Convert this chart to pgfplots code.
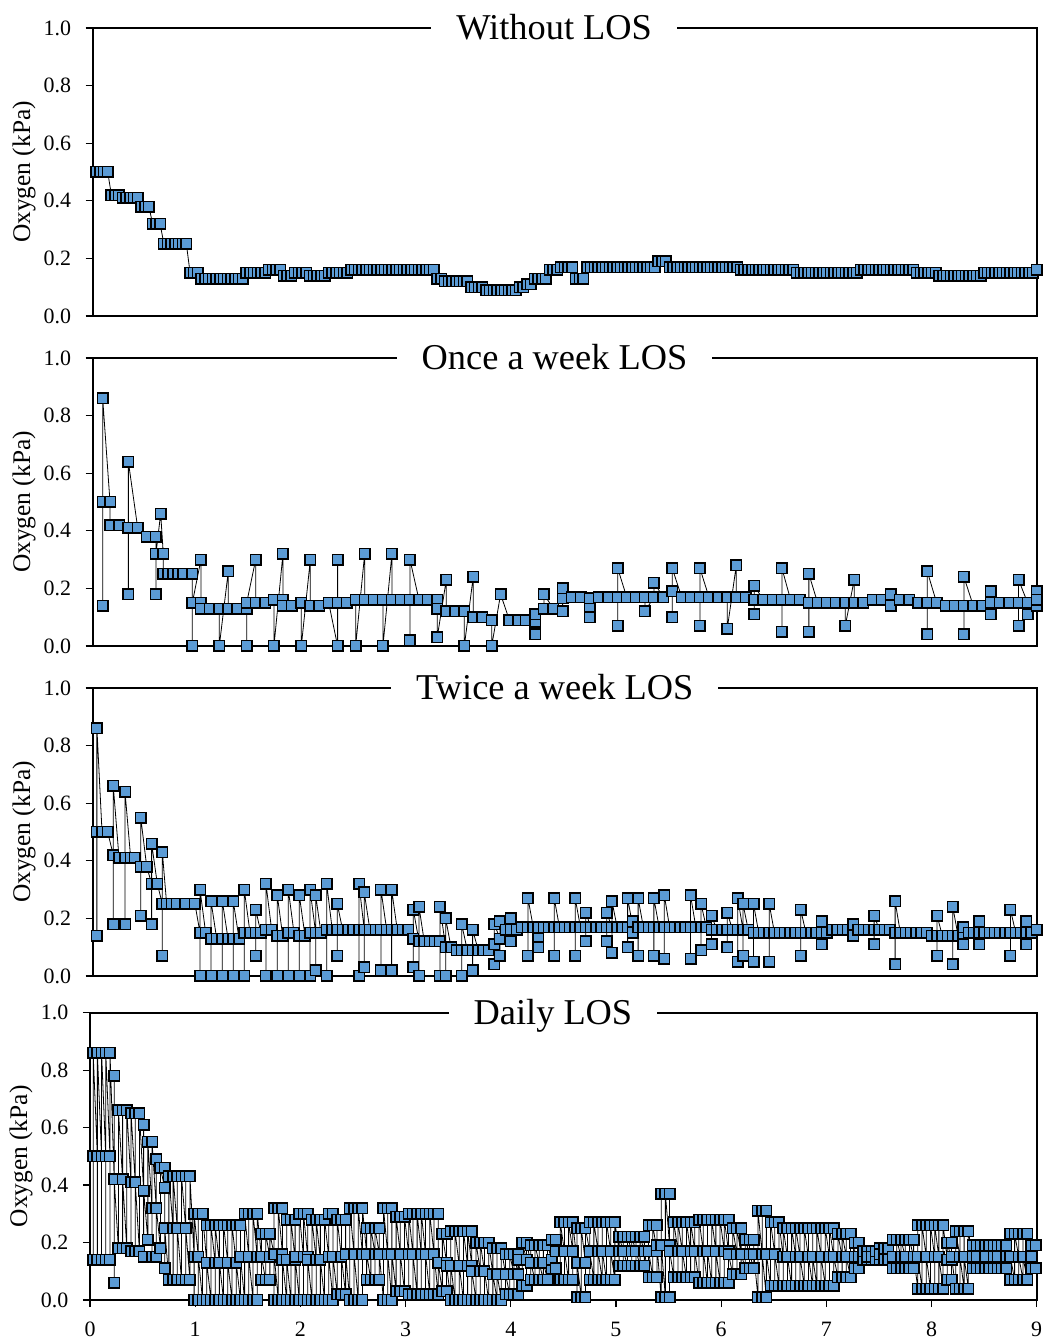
\documentclass[border=0pt]{standalone}
\usepackage{fontspec}
\setmainfont{Liberation Serif}
\usepackage{pgfplots}
\usepackage{pgfplotstable}
\pgfplotsset{compat=1.18}
\definecolor{mk}{RGB}{91,155,213}

% Without LOS: one reading every quarter week
\pgfplotstableread[row sep=\\]{
y\\
0.50\\0.50\\0.50\\0.50\\
0.42\\0.42\\0.42\\
0.41\\0.41\\0.41\\0.41\\0.41\\
0.38\\0.38\\0.38\\
0.32\\0.32\\0.32\\
0.25\\0.25\\0.25\\0.25\\0.25\\0.25\\0.25\\
0.15\\0.15\\0.15\\
0.13\\0.13\\0.13\\0.13\\0.13\\0.13\\0.13\\0.13\\0.13\\0.13\\0.13\\0.13\\
0.15\\0.15\\0.15\\0.15\\0.15\\0.15\\
0.16\\0.16\\0.16\\0.16\\
0.14\\0.14\\0.14\\
0.15\\0.15\\0.15\\0.15\\
0.14\\0.14\\0.14\\0.14\\0.14\\
0.15\\0.15\\0.15\\0.15\\0.15\\0.15\\
0.16\\0.16\\0.16\\0.16\\0.16\\0.16\\0.16\\0.16\\0.16\\0.16\\0.16\\0.16\\
0.16\\0.16\\0.16\\0.16\\0.16\\0.16\\0.16\\0.16\\0.16\\0.16\\0.16\\
0.13\\0.13\\
0.12\\0.12\\0.12\\0.12\\0.12\\0.12\\0.12\\
0.10\\0.10\\0.10\\0.10\\
0.09\\0.09\\0.09\\0.09\\0.09\\0.09\\0.09\\0.09\\0.09\\
0.10\\0.10\\
0.11\\0.11\\
0.13\\0.13\\0.13\\0.13\\
0.16\\0.16\\0.16\\
0.17\\0.17\\0.17\\0.17\\
0.13\\0.13\\0.13\\
0.17\\0.17\\0.17\\0.17\\0.17\\0.17\\0.17\\0.17\\0.17\\0.17\\
0.17\\0.17\\0.17\\0.17\\0.17\\0.17\\0.17\\0.17\\0.17\\
0.19\\0.19\\0.19\\
0.17\\0.17\\0.17\\0.17\\0.17\\0.17\\0.17\\0.17\\0.17\\0.17\\
0.17\\0.17\\0.17\\0.17\\0.17\\0.17\\0.17\\0.17\\0.17\\
0.16\\0.16\\0.16\\0.16\\0.16\\0.16\\0.16\\0.16\\0.16\\0.16\\0.16\\0.16\\0.16\\0.16\\0.16\\
0.15\\0.15\\0.15\\0.15\\0.15\\0.15\\0.15\\0.15\\0.15\\0.15\\0.15\\0.15\\0.15\\0.15\\0.15\\0.15\\0.15\\
0.16\\0.16\\0.16\\0.16\\0.16\\0.16\\0.16\\0.16\\0.16\\0.16\\0.16\\0.16\\0.16\\0.16\\0.16\\
0.15\\0.15\\0.15\\0.15\\0.15\\0.15\\
0.14\\0.14\\0.14\\0.14\\0.14\\0.14\\0.14\\0.14\\0.14\\0.14\\0.14\\0.14\\
0.15\\0.15\\0.15\\0.15\\0.15\\0.15\\0.15\\0.15\\0.15\\0.15\\0.15\\0.15\\0.15\\0.15\\
0.16\\
}\noLOS

% Daily LOS: each day gives set point, low during LOS, high after LOS
\pgfplotstableread[row sep=\\]{
y\\
0.50\\0.14\\0.86\\
0.50\\0.14\\0.86\\
0.50\\0.14\\0.86\\
0.50\\0.14\\0.86\\
0.50\\0.14\\0.86\\
0.42\\0.06\\0.78\\
0.42\\0.18\\0.66\\
0.42\\0.18\\0.66\\
0.42\\0.18\\0.66\\
0.41\\0.17\\0.65\\
0.41\\0.17\\0.65\\
0.41\\0.17\\0.65\\
0.38\\0.15\\0.61\\
0.38\\0.21\\0.55\\
0.32\\0.15\\0.55\\
0.32\\0.15\\0.49\\
0.32\\0.18\\0.46\\
0.39\\0.11\\0.46\\
0.25\\0.07\\0.43\\
0.25\\0.07\\0.43\\
0.25\\0.07\\0.43\\
0.25\\0.07\\0.43\\
0.25\\0.07\\0.43\\
0.25\\0.07\\0.43\\
0.15\\0.00\\0.30\\
0.15\\0.00\\0.30\\
0.15\\0.00\\0.30\\
0.13\\0.00\\0.26\\
0.13\\0.00\\0.26\\
0.13\\0.00\\0.26\\
0.13\\0.00\\0.26\\
0.13\\0.00\\0.26\\
0.13\\0.00\\0.26\\
0.13\\0.00\\0.26\\
0.13\\0.00\\0.26\\
0.13\\0.00\\0.26\\
0.15\\0.00\\0.30\\
0.15\\0.00\\0.30\\
0.15\\0.00\\0.30\\
0.15\\0.00\\0.30\\
0.15\\0.07\\0.23\\
0.15\\0.07\\0.23\\
0.15\\0.07\\0.23\\
0.16\\0.00\\0.32\\
0.16\\0.00\\0.32\\
0.16\\0.00\\0.32\\
0.14\\0.00\\0.28\\
0.14\\0.00\\0.28\\
0.14\\0.00\\0.28\\
0.15\\0.00\\0.30\\
0.15\\0.00\\0.30\\
0.15\\0.00\\0.30\\
0.14\\0.00\\0.28\\
0.14\\0.00\\0.28\\
0.14\\0.00\\0.28\\
0.14\\0.00\\0.28\\
0.15\\0.00\\0.30\\
0.15\\0.00\\0.30\\
0.15\\0.02\\0.28\\
0.15\\0.02\\0.28\\
0.15\\0.02\\0.28\\
0.16\\0.00\\0.32\\
0.16\\0.00\\0.32\\
0.16\\0.00\\0.32\\
0.16\\0.00\\0.32\\
0.16\\0.07\\0.25\\
0.16\\0.07\\0.25\\
0.16\\0.07\\0.25\\
0.16\\0.07\\0.25\\
0.16\\0.00\\0.32\\
0.16\\0.00\\0.32\\
0.16\\0.00\\0.32\\
0.16\\0.03\\0.29\\
0.16\\0.03\\0.29\\
0.16\\0.03\\0.29\\
0.16\\0.02\\0.30\\
0.16\\0.02\\0.30\\
0.16\\0.02\\0.30\\
0.16\\0.02\\0.30\\
0.16\\0.02\\0.30\\
0.16\\0.02\\0.30\\
0.16\\0.02\\0.30\\
0.16\\0.02\\0.30\\
0.13\\0.03\\0.23\\
0.13\\0.03\\0.23\\
0.12\\0.00\\0.24\\
0.12\\0.00\\0.24\\
0.12\\0.00\\0.24\\
0.12\\0.00\\0.24\\
0.12\\0.00\\0.24\\
0.12\\0.00\\0.24\\
0.10\\0.00\\0.20\\
0.10\\0.00\\0.20\\
0.10\\0.00\\0.20\\
0.10\\0.00\\0.20\\
0.09\\0.00\\0.18\\
0.09\\0.00\\0.18\\
0.09\\0.00\\0.18\\
0.09\\0.02\\0.16\\
0.09\\0.02\\0.16\\
0.09\\0.02\\0.16\\
0.09\\0.02\\0.16\\
0.14\\0.05\\0.20\\
0.14\\0.05\\0.20\\
0.13\\0.07\\0.19\\
0.13\\0.07\\0.19\\
0.13\\0.07\\0.19\\
0.13\\0.07\\0.19\\
0.13\\0.07\\0.19\\
0.14\\0.11\\0.21\\
0.14\\0.11\\0.21\\
0.17\\0.07\\0.27\\
0.17\\0.07\\0.27\\
0.17\\0.07\\0.27\\
0.17\\0.07\\0.27\\
0.13\\0.01\\0.25\\
0.13\\0.01\\0.25\\
0.13\\0.01\\0.25\\
0.17\\0.07\\0.27\\
0.17\\0.07\\0.27\\
0.17\\0.07\\0.27\\
0.17\\0.07\\0.27\\
0.17\\0.07\\0.27\\
0.17\\0.07\\0.27\\
0.17\\0.07\\0.27\\
0.17\\0.12\\0.22\\
0.17\\0.12\\0.22\\
0.17\\0.12\\0.22\\
0.17\\0.12\\0.22\\
0.17\\0.12\\0.22\\
0.17\\0.12\\0.22\\
0.17\\0.12\\0.22\\
0.17\\0.08\\0.26\\
0.17\\0.08\\0.26\\
0.17\\0.08\\0.26\\
0.19\\0.01\\0.37\\
0.19\\0.01\\0.37\\
0.19\\0.01\\0.37\\
0.17\\0.08\\0.27\\
0.17\\0.08\\0.27\\
0.17\\0.08\\0.27\\
0.17\\0.08\\0.27\\
0.17\\0.08\\0.27\\
0.17\\0.08\\0.27\\
0.17\\0.06\\0.28\\
0.17\\0.06\\0.28\\
0.17\\0.06\\0.28\\
0.17\\0.06\\0.28\\
0.17\\0.06\\0.28\\
0.17\\0.06\\0.28\\
0.17\\0.06\\0.28\\
0.17\\0.06\\0.28\\
0.16\\0.09\\0.25\\
0.16\\0.09\\0.25\\
0.16\\0.09\\0.25\\
0.16\\0.11\\0.21\\
0.16\\0.11\\0.21\\
0.16\\0.11\\0.21\\
0.16\\0.01\\0.31\\
0.16\\0.01\\0.31\\
0.16\\0.01\\0.31\\
0.16\\0.05\\0.27\\
0.16\\0.05\\0.27\\
0.16\\0.05\\0.27\\
0.15\\0.05\\0.25\\
0.15\\0.05\\0.25\\
0.15\\0.05\\0.25\\
0.15\\0.05\\0.25\\
0.15\\0.05\\0.25\\
0.15\\0.05\\0.25\\
0.15\\0.05\\0.25\\
0.15\\0.05\\0.25\\
0.15\\0.05\\0.25\\
0.15\\0.05\\0.25\\
0.15\\0.05\\0.25\\
0.15\\0.05\\0.25\\
0.15\\0.05\\0.25\\
0.15\\0.08\\0.23\\
0.15\\0.08\\0.23\\
0.15\\0.08\\0.23\\
0.15\\0.08\\0.23\\
0.15\\0.11\\0.20\\
0.15\\0.11\\0.20\\
0.15\\0.14\\0.17\\
0.15\\0.14\\0.17\\
0.15\\0.14\\0.17\\
0.15\\0.14\\0.17\\
0.16\\0.14\\0.18\\
0.16\\0.14\\0.18\\
0.16\\0.14\\0.18\\
0.15\\0.11\\0.21\\
0.15\\0.11\\0.21\\
0.15\\0.11\\0.21\\
0.15\\0.11\\0.21\\
0.15\\0.11\\0.21\\
0.15\\0.11\\0.21\\
0.15\\0.04\\0.26\\
0.15\\0.04\\0.26\\
0.15\\0.04\\0.26\\
0.15\\0.04\\0.26\\
0.15\\0.04\\0.26\\
0.15\\0.04\\0.26\\
0.15\\0.04\\0.26\\
0.14\\0.07\\0.20\\
0.14\\0.07\\0.20\\
0.15\\0.04\\0.24\\
0.15\\0.04\\0.24\\
0.15\\0.04\\0.24\\
0.15\\0.04\\0.24\\
0.15\\0.11\\0.19\\
0.15\\0.11\\0.19\\
0.15\\0.11\\0.19\\
0.15\\0.11\\0.19\\
0.15\\0.11\\0.19\\
0.15\\0.11\\0.19\\
0.15\\0.11\\0.19\\
0.15\\0.11\\0.19\\
0.15\\0.11\\0.19\\
0.15\\0.07\\0.23\\
0.15\\0.07\\0.23\\
0.15\\0.07\\0.23\\
0.15\\0.07\\0.23\\
0.15\\0.07\\0.23\\
0.15\\0.11\\0.19\\
0.15\\0.11\\0.19\\
}\dailyLOS

\pgfplotsset{
  panel/.style={
    scale only axis,
    width=944bp, height=288bp,
    anchor=south west,
    xmin=0, xmax=9, ymin=0, ymax=1,
    clip=false,
    axis line style={line width=2bp},
    ytick={0,0.2,0.4,0.6,0.8,1},
    ytick pos=left,
    xtick=\empty,
    tick align=outside,
    major tick length=7bp,
    every tick/.style={black, line width=1.2bp},
    tick label style={font=\fontsize{22}{24}\selectfont},
    /pgf/number format/assume math mode=true,
    yticklabel style={anchor=east, inner sep=0pt, xshift=-14.5bp,
      /pgf/number format/.cd, fixed, fixed zerofill, precision=1},
    ylabel={Oxygen (kPa)},
    every axis y label/.style={at={(axis description cs:-0.0728,0.5)},
      rotate=90, anchor=center, font=\fontsize{25.5}{28}\selectfont},
  },
  oxy/.style={black, line width=0.8bp, mark=square*, mark size=5.25bp,
    mark options={solid, fill=mk, draw=black, line width=1.5bp}},
}
\tikzset{
  ttl/.style={fill=white, inner xsep=25bp, inner ysep=4bp, anchor=base,
    yshift=-11.9bp, font=\fontsize{36.5}{40}\selectfont},
}

\begin{document}
\begin{tikzpicture}

% ---------- Without LOS ----------
\begin{axis}[panel, at={(92.7bp,1025bp)}]
\addplot[oxy] table[x expr={(\coordindex+1)/28}, y=y] {\noLOS};
\node[ttl] at (rel axis cs:0.4888,1) {Without LOS};
\end{axis}

% ---------- Once a week LOS ----------
\begin{axis}[panel, at={(92.7bp,695bp)}]
\addplot[oxy] coordinates {
(0.095,0.50)(0.095,0.14)(0.095,0.86)
(0.165,0.50)(0.165,0.42)(0.251,0.42)
(0.340,0.41)(0.340,0.18)(0.340,0.64)
(0.429,0.41)(0.515,0.38)
(0.603,0.38)(0.603,0.18)(0.603,0.32)(0.648,0.46)
(0.673,0.32)(0.673,0.25)
(0.721,0.25)(0.769,0.25)(0.816,0.25)(0.864,0.25)
(0.950,0.25)(0.950,0.00)(0.950,0.15)(1.032,0.30)(1.032,0.15)(1.032,0.13)
(1.118,0.13)
(1.207,0.13)(1.207,0.00)(1.293,0.26)(1.293,0.13)(1.379,0.13)
(1.468,0.13)(1.468,0.00)(1.468,0.15)(1.554,0.30)(1.554,0.15)(1.643,0.15)
(1.728,0.16)(1.728,0.00)(1.814,0.32)(1.814,0.16)(1.814,0.14)(1.900,0.14)
(1.989,0.15)(1.989,0.00)(2.075,0.30)(2.075,0.14)(2.160,0.14)
(2.250,0.15)(2.335,0.00)(2.335,0.30)(2.335,0.15)(2.421,0.15)
(2.507,0.16)(2.507,0.00)(2.593,0.32)(2.593,0.16)(2.679,0.16)
(2.767,0.16)(2.767,0.00)(2.853,0.32)(2.853,0.16)(2.939,0.16)
(3.025,0.16)(3.025,0.02)(3.025,0.30)(3.111,0.16)(3.196,0.16)
(3.285,0.16)(3.285,0.13)(3.285,0.03)(3.371,0.23)(3.371,0.12)(3.457,0.12)
(3.543,0.12)(3.543,0.00)(3.628,0.24)(3.628,0.10)(3.714,0.10)
(3.804,0.09)(3.804,0.00)(3.889,0.18)(3.972,0.09)(4.057,0.09)
(4.131,0.09)
(4.217,0.085)(4.217,0.04)(4.217,0.11)
(4.302,0.13)(4.302,0.18)(4.391,0.13)
(4.480,0.165)(4.480,0.12)(4.480,0.20)
(4.566,0.17)(4.655,0.17)
(4.741,0.13)(4.741,0.10)(4.741,0.165)
(4.826,0.17)(4.915,0.17)
(5.005,0.17)(5.005,0.07)(5.005,0.27)
(5.091,0.17)(5.176,0.17)
(5.265,0.17)(5.265,0.12)(5.351,0.17)(5.351,0.22)(5.440,0.17)
(5.525,0.19)(5.525,0.10)(5.525,0.27)
(5.615,0.17)(5.701,0.17)
(5.789,0.17)(5.789,0.07)(5.789,0.27)
(5.875,0.17)(5.964,0.17)
(6.050,0.17)(6.050,0.06)(6.136,0.28)(6.136,0.17)(6.225,0.17)
(6.307,0.16)(6.307,0.11)(6.307,0.21)
(6.393,0.16)(6.482,0.16)
(6.571,0.16)(6.571,0.05)(6.571,0.27)
(6.654,0.16)(6.743,0.16)
(6.828,0.15)(6.828,0.05)(6.828,0.25)
(6.911,0.15)(6.997,0.15)(7.086,0.15)
(7.175,0.15)(7.175,0.07)(7.260,0.23)(7.260,0.15)
(7.346,0.15)(7.436,0.16)(7.521,0.16)
(7.610,0.16)(7.610,0.14)(7.610,0.18)
(7.696,0.16)(7.785,0.16)(7.871,0.15)
(7.956,0.15)(7.956,0.04)(7.956,0.26)
(8.046,0.15)(8.131,0.14)(8.220,0.14)
(8.306,0.14)(8.306,0.04)(8.306,0.24)
(8.395,0.14)(8.481,0.14)
(8.563,0.15)(8.563,0.11)(8.563,0.19)
(8.649,0.15)(8.738,0.15)
(8.827,0.15)(8.827,0.07)(8.827,0.23)
(8.913,0.15)(8.913,0.11)
(9.000,0.14)(9.000,0.19)(9.000,0.16)
};
\node[ttl] at (rel axis cs:0.4892,1) {Once a week LOS};
\end{axis}

% ---------- Twice a week LOS ----------
\begin{axis}[panel, at={(92.7bp,365bp)}]
\addplot[oxy] coordinates {
(0.040,0.50)(0.040,0.14)(0.040,0.86)
(0.089,0.50)(0.143,0.50)
(0.196,0.42)(0.196,0.18)(0.196,0.66)
(0.251,0.41)
(0.308,0.41)(0.308,0.18)(0.308,0.64)
(0.362,0.41)(0.403,0.41)
(0.458,0.38)(0.458,0.21)(0.458,0.55)
(0.515,0.38)
(0.562,0.32)(0.562,0.18)(0.562,0.46)
(0.616,0.32)
(0.664,0.25)(0.664,0.07)(0.664,0.43)
(0.705,0.25)(0.753,0.25)(0.801,0.25)(0.880,0.25)(0.975,0.25)
(1.023,0.15)(1.023,0.00)(1.023,0.30)(1.077,0.15)
(1.128,0.13)(1.128,0.00)(1.128,0.26)(1.182,0.13)
(1.236,0.13)(1.236,0.00)(1.236,0.26)(1.290,0.13)
(1.340,0.13)(1.340,0.00)(1.340,0.26)(1.395,0.13)
(1.445,0.15)(1.445,0.00)(1.445,0.30)(1.500,0.15)
(1.554,0.15)(1.554,0.07)(1.554,0.23)(1.604,0.15)
(1.652,0.16)(1.652,0.00)(1.652,0.32)(1.706,0.16)
(1.760,0.14)(1.760,0.00)(1.760,0.28)(1.811,0.14)
(1.865,0.15)(1.865,0.00)(1.865,0.30)(1.919,0.15)
(1.970,0.14)(1.970,0.00)(1.970,0.28)(2.024,0.14)
(2.072,0.15)(2.072,0.00)(2.072,0.30)
(2.126,0.15)(2.126,0.02)(2.126,0.28)(2.176,0.15)
(2.231,0.16)(2.231,0.00)(2.231,0.32)(2.284,0.16)
(2.332,0.16)(2.332,0.07)(2.332,0.25)
(2.383,0.16)(2.437,0.16)(2.485,0.16)
(2.539,0.16)(2.539,0.00)(2.539,0.32)
(2.589,0.16)(2.589,0.03)(2.589,0.29)
(2.643,0.16)(2.698,0.16)
(2.748,0.16)(2.748,0.02)(2.748,0.30)(2.803,0.16)
(2.850,0.16)(2.850,0.02)(2.850,0.30)
(2.904,0.16)(2.955,0.16)(3.009,0.16)
(3.057,0.13)(3.057,0.03)(3.057,0.23)
(3.111,0.12)(3.111,0.00)(3.111,0.24)
(3.161,0.12)(3.215,0.12)(3.263,0.12)
(3.311,0.12)(3.311,0.00)(3.311,0.24)
(3.365,0.10)(3.365,0.00)(3.365,0.20)
(3.416,0.10)(3.470,0.09)
(3.518,0.09)(3.518,0.00)(3.518,0.18)(3.571,0.09)
(3.622,0.09)(3.622,0.02)(3.622,0.16)
(3.676,0.09)(3.724,0.09)(3.778,0.09)
(3.829,0.11)(3.829,0.04)(3.829,0.18)
(3.883,0.13)(3.883,0.07)(3.883,0.19)
(3.937,0.16)
(3.988,0.16)(3.988,0.12)(3.988,0.20)
(4.042,0.16)(4.090,0.17)
(4.15,0.17)(4.15,0.07)(4.15,0.27)
(4.20,0.17)
(4.25,0.13)(4.25,0.10)(4.25,0.17)
(4.30,0.17)(4.35,0.17)
(4.40,0.17)(4.40,0.07)(4.40,0.27)
(4.45,0.17)(4.50,0.17)(4.55,0.17)
(4.60,0.17)(4.60,0.07)(4.60,0.27)
(4.65,0.17)
(4.70,0.17)(4.70,0.12)(4.70,0.22)
(4.75,0.17)(4.80,0.17)(4.85,0.17)
(4.90,0.17)(4.90,0.12)(4.90,0.22)
(4.95,0.17)(4.95,0.08)(4.95,0.26)
(5.00,0.17)(5.05,0.17)
(5.10,0.17)(5.10,0.10)(5.10,0.27)
(5.15,0.17)(5.15,0.15)(5.15,0.19)
(5.20,0.17)(5.20,0.07)(5.20,0.27)
(5.25,0.17)(5.30,0.17)
(5.35,0.17)(5.35,0.07)(5.35,0.27)
(5.40,0.17)
(5.45,0.17)(5.45,0.06)(5.45,0.28)
(5.50,0.17)(5.55,0.17)(5.60,0.17)(5.65,0.17)
(5.70,0.17)(5.70,0.06)(5.70,0.28)
(5.75,0.17)
(5.80,0.17)(5.80,0.09)(5.80,0.25)
(5.85,0.17)
(5.90,0.16)(5.90,0.11)(5.90,0.21)
(5.95,0.16)(6.00,0.16)
(6.05,0.16)(6.05,0.10)(6.05,0.22)
(6.10,0.16)
(6.15,0.16)(6.15,0.05)(6.15,0.27)
(6.20,0.16)(6.20,0.07)(6.20,0.25)
(6.25,0.16)
(6.30,0.15)(6.30,0.05)(6.30,0.25)
(6.35,0.15)(6.40,0.15)
(6.45,0.15)(6.45,0.05)(6.45,0.25)
(6.50,0.15)(6.55,0.15)(6.60,0.15)(6.65,0.15)(6.70,0.15)
(6.75,0.15)(6.75,0.07)(6.75,0.23)
(6.80,0.15)(6.85,0.15)(6.90,0.15)
(6.95,0.15)(6.95,0.11)(6.95,0.19)
(7.00,0.15)(7.05,0.16)(7.10,0.16)(7.15,0.16)(7.20,0.16)
(7.25,0.16)(7.25,0.14)(7.25,0.18)
(7.30,0.16)(7.35,0.16)(7.40,0.16)
(7.45,0.16)(7.45,0.11)(7.45,0.21)
(7.50,0.16)(7.55,0.16)(7.60,0.16)
(7.65,0.15)(7.65,0.04)(7.65,0.26)
(7.70,0.15)(7.75,0.15)(7.80,0.15)(7.85,0.15)(7.90,0.15)(7.95,0.15)
(8.00,0.14)
(8.05,0.14)(8.05,0.07)(8.05,0.21)
(8.10,0.14)(8.15,0.14)
(8.20,0.14)(8.20,0.04)(8.20,0.24)
(8.25,0.14)
(8.30,0.14)(8.30,0.11)(8.30,0.17)
(8.35,0.15)(8.40,0.15)
(8.45,0.15)(8.45,0.11)(8.45,0.19)
(8.50,0.15)(8.55,0.15)(8.60,0.15)(8.65,0.15)(8.70,0.15)
(8.75,0.15)(8.75,0.07)(8.75,0.23)
(8.80,0.15)(8.85,0.15)
(8.90,0.15)(8.90,0.11)(8.90,0.19)
(8.95,0.15)(9.00,0.16)
};
\node[ttl] at (rel axis cs:0.4895,1) {Twice a week LOS};
\end{axis}

% ---------- Daily LOS ----------
\begin{axis}[panel, at={(90bp,41bp)}, width=946.7bp, height=287.3bp,
  xtick={0,1,2,3,4,5,6,7,8,9}, xtick pos=left,
  xticklabel style={anchor=north, inner sep=0pt, yshift=-14.7bp}]
\addplot[oxy] table[x expr={0.03+0.04*floor(\coordindex/3)}, y=y] {\dailyLOS};
\node[ttl] at (rel axis cs:0.4890,1) {Daily LOS};
\end{axis}

\pgfresetboundingbox
\useasboundingbox (0,0) rectangle (1047bp,1341bp);
\end{tikzpicture}
\end{document}
